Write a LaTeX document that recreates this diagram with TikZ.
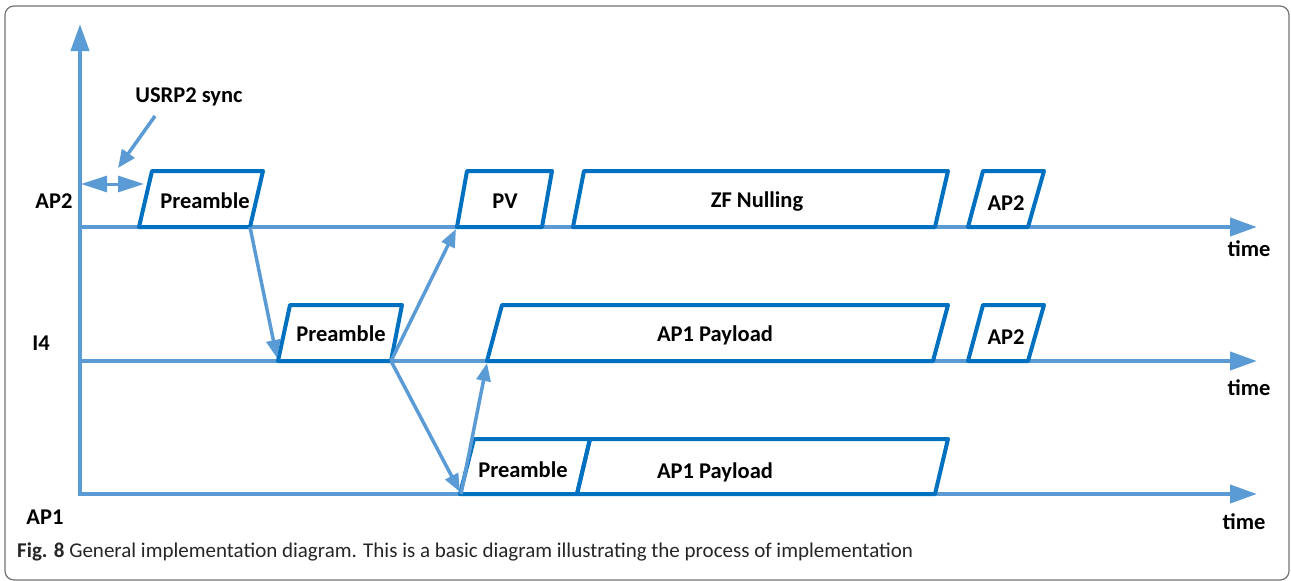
\documentclass[tikz,border=0pt]{standalone}
\usepackage{fontspec}
\setmainfont{Carlito}
\usetikzlibrary{arrows.meta}
\definecolor{lblue}{HTML}{5B9BD5}
\definecolor{dblue}{HTML}{0070C0}
\begin{document}
\begin{tikzpicture}[x=1pt,y=-1pt,
  axisline/.style={draw=lblue,line width=4pt,-{Triangle[length=27pt,width=18pt]}},
  conn/.style={draw=lblue,line width=3.5pt,-{Triangle[length=18pt,width=14pt]}},
  pbox/.style={draw=dblue,line width=4pt,line join=round},
  lbl/.style={font=\fontsize{22.5}{26}\selectfont\bfseries,inner sep=0pt},
  captext/.style={font=\fontsize{21}{24}\selectfont,inner sep=0pt,text=black!85}]
\useasboundingbox (0,0) rectangle (1291,581);
\draw[black!55,line width=1.2pt,rounded corners=9pt] (5,6) rectangle (1289,580);

% axes
\coordinate (origin) at (80,494);
\coordinate (ytop) at (80,24);
\coordinate (l2s) at (80,227); \coordinate (l2e) at (1257,227);
\coordinate (l4s) at (80,361); \coordinate (l4e) at (1257,361);
\coordinate (l1s) at (78,494); \coordinate (l1e) at (1257,494);
\draw[axisline] (origin) -- (ytop);
\draw[axisline] (l2s) -- (l2e);
\draw[axisline] (l4s) -- (l4e);
\draw[axisline] (l1s) -- (l1e);

% labels
\node[lbl] (lab2) at (54,201) {AP2};
\node[lbl] (lab4) at (41,343) {I4};
\node[lbl] (lab1) at (45,517) {AP1};
\node[lbl] (t2) at (1249,249) {time};
\node[lbl] (t4) at (1249,388) {time};
\node[lbl] (t1) at (1244,522) {time};

% sync
\node[lbl] (sync) at (189,97) {USRP2 sync};
\coordinate (syncA) at (155,116);
\coordinate (syncB) at (118,168);
\draw[draw=lblue,line width=3.5pt,-{Triangle[length=18pt,width=15pt]}] (syncA) -- (syncB);
\coordinate (gapL) at (81,184);
\coordinate (gapR) at (144,184);
\draw[draw=lblue,line width=3pt,{Triangle[length=26pt,width=16pt]}-{Triangle[length=26pt,width=16pt]}] (gapL) -- (gapR);

% AP2 row boxes
\draw[pbox] (139,227) -- (152,171) -- (263,171) -- (250,227) -- cycle;
\node[lbl] (pre2) at (205,201) {Preamble};
\draw[pbox] (457,227) -- (467,171) -- (552,171) -- (542,227) -- cycle;
\node[lbl] (pv) at (505,201) {PV};
\draw[pbox] (573,227) -- (584,171) -- (948,171) -- (935,227) -- cycle;
\node[lbl] (zf) at (757,202) {ZF Nulling};
\draw[pbox] (968,227) -- (983,171) -- (1044,171) -- (1028,227) -- cycle;
\node[lbl] (ap2a) at (1006,203) {AP2};

% I4 row boxes
\draw[pbox] (278,361) -- (290,305) -- (402,305) -- (391,361) -- cycle;
\node[lbl] (pre4) at (341,334) {Preamble};
\draw[pbox] (487,361) -- (502,305) -- (948,305) -- (933,361) -- cycle;
\node[lbl] (pay4) at (715,335) {AP1 Payload};
\draw[pbox] (968,361) -- (983,305) -- (1044,305) -- (1028,361) -- cycle;
\node[lbl] (ap2b) at (1006,337) {AP2};

% AP1 row boxes
\draw[pbox] (460,494) -- (474,439) -- (590,439) -- (577,494) -- cycle;
\node[lbl] (pre1) at (523,470) {Preamble};
\draw[pbox] (577,494) -- (590,439) -- (948,439) -- (935,494) -- cycle;
\node[lbl] (pay1) at (715,472) {AP1 Payload};

% connectors
\coordinate (c2br) at (250,227);
\coordinate (c4bl) at (277,358);
\coordinate (c4br) at (391,361);
\coordinate (cpvbl) at (456,229);
\coordinate (c1bl) at (460,492);
\coordinate (c1s) at (461,494);
\coordinate (cpaybl) at (487,363);
\draw[conn] (c2br) -- (c4bl);
\draw[conn] (c4br) -- (cpvbl);
\draw[conn] (c4br) -- (c1bl);
\draw[conn] (c1s) -- (cpaybl);

% caption
\node[captext,anchor=base west] (caption) at (17,557) {\textbf{Fig. 8} General implementation diagram. This is a basic diagram illustrating the process of implementation};
\end{tikzpicture}
\end{document}
